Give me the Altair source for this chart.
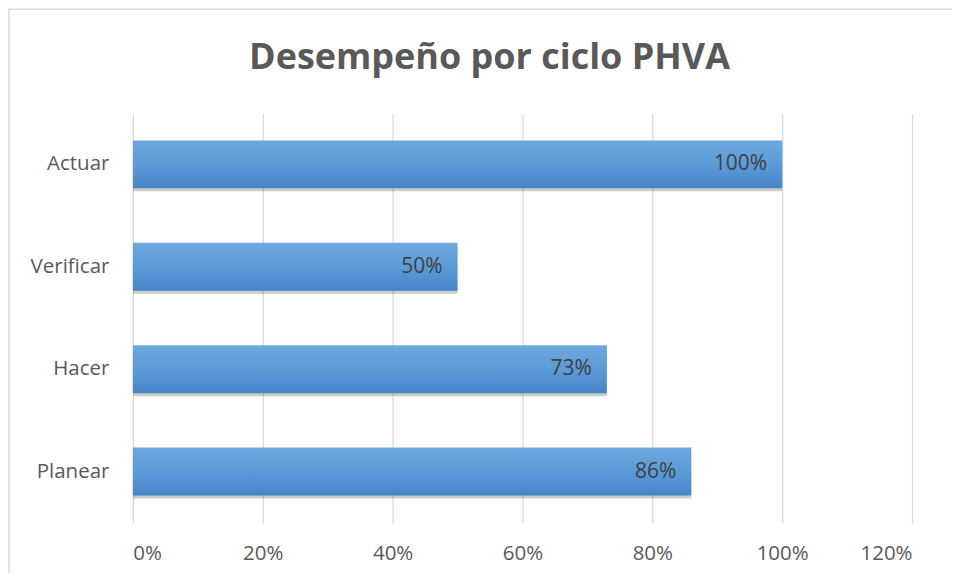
import altair as alt
import pandas as pd

categories = ["Actuar", "Verificar", "Hacer", "Planear"]
values = [1.00, 0.50, 0.73, 0.86]
labels = ["100%", "50%", "73%", "86%"]
x_ticks = [0, 0.2, 0.4, 0.6, 0.8, 1.0, 1.2]
title_text = "Desempeño por ciclo PHVA"

df = pd.DataFrame({"fase": categories, "valor": values, "etiqueta": labels})

FONT = "Open Sans"
GREY = "#595959"

y_enc = alt.Y("fase:N", sort=categories, title=None,
              scale=alt.Scale(paddingInner=0.53, paddingOuter=0.265),
              axis=alt.Axis(labelFontSize=20.5, labelColor=GREY, labelFont=FONT,
                            ticks=False, domain=False, labelPadding=24, grid=False))
x_scale = alt.Scale(domain=[0, 1.2], nice=False)

base = alt.Chart(df)

shadow = base.mark_bar(color="#000000", opacity=0.2, yOffset=3, y2Offset=3,
                       x2Offset=2, size=48).encode(
    x=alt.X("valor:Q", scale=x_scale),
    y=y_enc,
)

bars = base.mark_bar(size=48, color=alt.LinearGradient(
    gradient="linear", x1=0, y1=0, x2=0, y2=1,
    stops=[alt.GradientStop(color="#6ea8de", offset=0),
           alt.GradientStop(color="#5b9bd8", offset=0.5),
           alt.GradientStop(color="#4585c8", offset=1)])).encode(
    x=alt.X("valor:Q", scale=x_scale, title=None,
            axis=alt.Axis(values=x_ticks, format=".0%", labelFontSize=20.5,
                          labelColor=GREY, labelFont=FONT, ticks=False,
                          domain=False, labelPadding=21, grid=True,
                          gridColor="#d9d9d9", gridWidth=1.3)),
    y=y_enc,
)

text = base.mark_text(align="right", baseline="middle", dx=-15, fontSize=21,
                      font=FONT, color="#404040").encode(
    x=alt.X("valor:Q", scale=x_scale),
    y=y_enc,
    text="etiqueta:N",
)

deco = alt.Chart(pd.DataFrame({"t": [title_text]}))

border = deco.mark_rect(fill=None, stroke="#d9d9d9", strokeWidth=1.5).encode(
    x=alt.value(-124), x2=alt.value(1000), y=alt.value(-104), y2=alt.value(700))

title = deco.mark_text(font=FONT, fontSize=36, fontWeight="bold", color=GREY,
                       align="center", baseline="alphabetic").encode(
    x=alt.value(357), y=alt.value(-44), text="t:N")

chart = alt.layer(border, title, shadow, bars, text).properties(
    width=780, height=410,
    padding={"left": 125, "top": 105, "right": 40, "bottom": 50},
    autosize=alt.AutoSizeParams(type="none"),
    background="white",
).configure_view(strokeWidth=0, stroke=None)

chart.save("out.html", embed_options={"renderer": "svg", "actions": False})
